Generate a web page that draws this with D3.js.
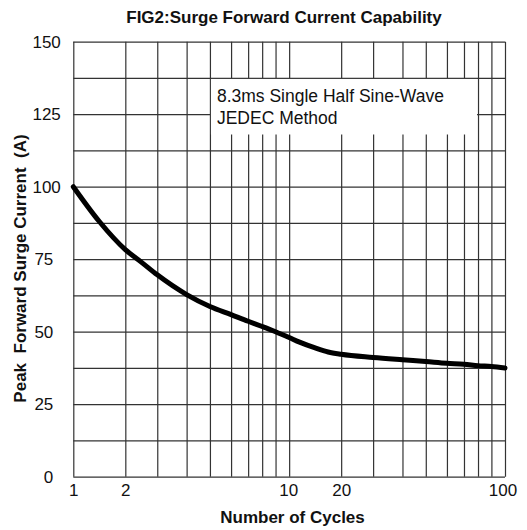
<!DOCTYPE html>
<html>
<head>
<meta charset="utf-8">
<script src="https://cdn.jsdelivr.net/npm/d3@7"></script>
<style>
  html, body { margin: 0; padding: 0; background: #fff; }
  svg { display: block; font-family: "Liberation Sans", Arial, sans-serif; }
</style>
</head>
<body>
<svg id="chart" width="527" height="530"></svg>
<script>
// ---- data ----
const cycles  = [1, 1.5, 2, 2.5, 3, 4, 5, 6, 7, 8, 9, 10, 12, 15, 17.5, 20, 30, 40, 50, 60, 70, 80, 90, 100];
const current = [100, 88, 78.3, 74, 69.6, 62.8, 58.7, 55.9, 53.6, 51.8, 50, 48, 46.4, 44.4, 43.0, 42.2, 41.1, 40.3, 39.7, 39.1, 38.8, 38.3, 38, 37.5];
const xGridValues = [1, 2, 3, 4, 5, 6, 7, 8, 9, 10, 20, 30, 40, 50, 60, 70, 80, 90, 100];
const xTickLabels = [1, 2, 10, 20, 100];
const yTickLabels = [0, 25, 50, 75, 100, 125, 150];
const yGridValues = d3.range(0, 150.1, 12.5);
const titleText = "FIG2:Surge Forward Current Capability";
const xTitle = "Number of Cycles";
const yTitle = "Peak  Forward Surge Current  (A)";
const noteLines = ["8.3ms Single Half Sine-Wave", "JEDEC Method"];
const noteBox = { x0: 5, x1: 80, yTop: 137.5, yBottom: 118 };

// ---- layout ----
const W = 527, H = 530;
const m = { left: 73.3, right: 22, top: 41.7, bottom: 53.3 };
const iw = W - m.left - m.right, ih = H - m.top - m.bottom;
// placement of the printed grid lines inside one decade (as drawn on the original sheet)
const decadeSteps = [0, 0.241, 0.389, 0.525, 0.633, 0.731, 0.810, 0.875, 0.937];
const decadeW = iw / 2;
const xRange = [];
for (let d = 0; d < 2; d++) decadeSteps.forEach(f => xRange.push((d + f) * decadeW));
xRange.push(2 * decadeW);

const x = d3.scaleLinear().domain(xGridValues).range(xRange);
const y = d3.scaleLinear().domain([0, 150]).range([ih, 0]);

const svg = d3.select("#chart");
const g = svg.append("g").attr("transform", `translate(${m.left},${m.top})`);

// grid
const gx = g.append("g").attr("transform", `translate(0,${ih})`)
  .call(d3.axisBottom(x).tickValues(xGridValues).tickSize(-ih).tickFormat(""));
gx.select(".domain").remove();
gx.selectAll(".tick line").attr("stroke", "#333").attr("stroke-width", 1.2);

const gy = g.append("g")
  .call(d3.axisLeft(y).tickValues(yGridValues).tickSize(-iw).tickFormat(""));
gy.select(".domain").remove();
gy.selectAll(".tick line").attr("stroke", "#333").attr("stroke-width", 1.2);

// note box
g.append("rect")
  .attr("x", x(noteBox.x0) + 1)
  .attr("y", y(noteBox.yTop) + 1)
  .attr("width", x(noteBox.x1) - x(noteBox.x0) - 2)
  .attr("height", y(noteBox.yBottom) - y(noteBox.yTop) - 1)
  .attr("fill", "#fff");
const note = g.append("text")
  .attr("x", x(noteBox.x0) + 7)
  .attr("y", y(noteBox.yTop) + 24)
  .attr("font-size", 17.5).attr("fill", "#111");
noteLines.forEach((t, i) => note.append("tspan")
  .attr("x", x(noteBox.x0) + 7).attr("dy", i === 0 ? 0 : 22).text(t));

// tick labels
const ax = g.append("g").attr("transform", `translate(0,${ih})`)
  .call(d3.axisBottom(x).tickValues(xTickLabels).tickSize(0).tickPadding(0).tickFormat(d3.format("d")));
ax.select(".domain").remove();
ax.selectAll("text").attr("font-size", 17).attr("fill", "#111")
  .attr("font-family", "'Liberation Sans', Arial, sans-serif")
  .attr("dy", null).attr("y", 19.5)
  .attr("dx", d => d === 100 ? -2.5 : (d === 10 ? -1 : 0));

const ay = g.append("g")
  .call(d3.axisLeft(y).tickValues(yTickLabels).tickSize(0).tickPadding(0).tickFormat(d3.format("d")));
ay.select(".domain").remove();
ay.selectAll("text").attr("font-size", 17).attr("fill", "#111")
  .attr("font-family", "'Liberation Sans', Arial, sans-serif")
  .attr("x", d => d >= 100 ? -12.5 : -20);

// curve
const pts = cycles.map((c, i) => [c, current[i]]);
g.append("path")
  .datum(pts)
  .attr("fill", "none").attr("stroke", "#000").attr("stroke-width", 5)
  .attr("stroke-linecap", "round").attr("stroke-linejoin", "round")
  .attr("d", d3.line().x(d => x(d[0])).y(d => y(d[1])).curve(d3.curveMonotoneX));

// titles
svg.append("text").attr("x", 284).attr("y", 22.5).attr("text-anchor", "middle")
  .attr("font-size", 17).attr("font-weight", "bold").attr("fill", "#111").text(titleText);
svg.append("text").attr("x", 292.5).attr("y", 522.5).attr("text-anchor", "middle")
  .attr("font-size", 17).attr("font-weight", "bold").attr("fill", "#111").text(xTitle);
svg.append("text").attr("transform", "translate(26,268.5) rotate(-90)")
  .attr("text-anchor", "middle").style("white-space", "pre")
  .attr("font-size", 17).attr("font-weight", "bold").attr("fill", "#111").text(yTitle);
</script>
</body>
</html>
